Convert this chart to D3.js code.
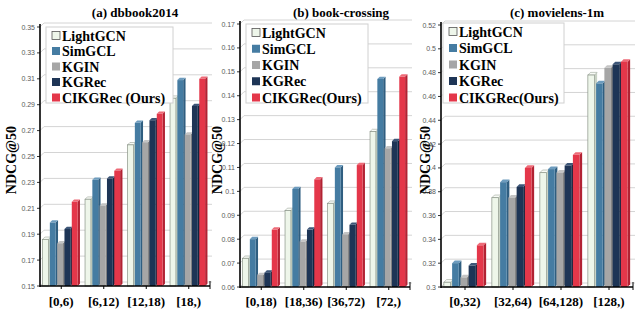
<!DOCTYPE html>
<html>
<head>
<meta charset="utf-8">
<script src="https://cdn.jsdelivr.net/npm/d3@7"></script>
<style>
  body { margin: 0; background: #fff; }
  svg { display: block; }
</style>
</head>
<body>
<svg id="chart" width="637" height="314"></svg>
<script>
// categories (user interaction ranges)
var catsA = ["[0,6)", "[6,12)", "[12,18)", "[18,)"];
var catsB = ["[0,18)", "[18,36)", "[36,72)", "[72,)"];
var catsC = ["[0,32)", "[32,64)", "[64,128)", "[128,)"];

var methods = ["LightGCN", "SimGCL", "KGIN", "KGRec", "CIKGRec(Ours)"];
var methodsA = ["LightGCN", "SimGCL", "KGIN", "KGRec", "CIKGRec (Ours)"];

// NDCG@50, one row per method (same order as methods)
var dbbookVals = [
  [0.186, 0.217, 0.259, 0.295],
  [0.199, 0.232, 0.276, 0.309],
  [0.183, 0.212, 0.261, 0.267],
  [0.194, 0.233, 0.278, 0.289],
  [0.215, 0.239, 0.283, 0.310]
];
var bookVals = [
  [0.072, 0.092, 0.095, 0.125],
  [0.080, 0.101, 0.110, 0.147],
  [0.065, 0.079, 0.082, 0.118],
  [0.066, 0.084, 0.086, 0.121],
  [0.084, 0.105, 0.111, 0.148]
];
var movieVals = [
  [0.304, 0.375, 0.396, 0.478],
  [0.320, 0.388, 0.399, 0.471],
  [0.308, 0.375, 0.396, 0.484],
  [0.318, 0.384, 0.402, 0.487],
  [0.335, 0.400, 0.411, 0.489]
];

var ticksA = [0.15, 0.17, 0.19, 0.21, 0.23, 0.25, 0.27, 0.29, 0.31, 0.33, 0.35];
var ticksB = [0.06, 0.07, 0.08, 0.09, 0.1, 0.11, 0.12, 0.13, 0.14, 0.15, 0.16, 0.17];
var ticksC = [0.3, 0.32, 0.34, 0.36, 0.38, 0.4, 0.42, 0.44, 0.46, 0.48, 0.5, 0.52];

var fills = ["#eef6ea", "#457ca2", "#a6a6a6", "#1e3556", "#e4374a"];
var sides = ["#c9d3c5", "#2f5e80", "#848484", "#112540", "#b22233"];
var tops  = ["#f8fbf6", "#6d9cbe", "#c4c4c4", "#3d5678", "#ee6a77"];
var strokes = ["#8a9488", "none", "none", "none", "none"];

var svg = d3.select("#chart");
var serif = "'Liberation Serif', 'Times New Roman', serif";
var sans = "'Liberation Sans', Arial, sans-serif";

var panels = [
  {title: "(a) dbbook2014", tx: 135, cats: catsA, vals: dbbookVals, ticks: ticksA, dom: [0.15, 0.35],
   x0: 40, x1: 210, yTop: 27, yBot: 286, ylab: 11, legend: methodsA, lx: 46, ly: 27, lw: 127, lh: 76},
  {title: "(b) book-crossing", tx: 341, cats: catsB, vals: bookVals, ticks: ticksB, dom: [0.06, 0.17],
   x0: 240, x1: 410, yTop: 24, yBot: 287, ylab: 217, legend: methods, lx: 246, ly: 24, lw: 122, lh: 79},
  {title: "(c) movielens-1m", tx: 557, cats: catsC, vals: movieVals, ticks: ticksC, dom: [0.3, 0.52],
   x0: 441, x1: 633, yTop: 25, yBot: 287, ylab: 425, legend: methods, lx: 443, ly: 23, lw: 121, lh: 80}
];

var dx = 4, dy = 4; // back wall offset

panels.forEach(function(p) {
  var g = svg.append("g");

  var x = d3.scaleBand().domain(p.cats).range([p.x0, p.x1]).paddingInner(0).paddingOuter(0);
  var y = d3.scaleLinear().domain(p.dom).range([p.yBot, p.yTop]);

  // gridlines on back wall
  p.ticks.forEach(function(t) {
    var yy = y(t);
    g.append("path")
      .attr("d", "M" + p.x0 + "," + yy + "L" + (p.x0 + dx) + "," + (yy - dy) + "L" + (p.x1 + dx - 2) + "," + (yy - dy))
      .attr("fill", "none")
      .attr("stroke", "#d4d4d4")
      .attr("stroke-width", 1);
  });

  // y tick labels
  g.selectAll(".tl").data(p.ticks).enter().append("text")
    .attr("x", p.x0 - 5)
    .attr("y", function(d) { return y(d) + 2.5; })
    .attr("text-anchor", "end")
    .attr("font-family", sans)
    .attr("font-size", "7px")
    .attr("fill", "#595959")
    .text(function(d) { return String(+d.toFixed(2)); });

  // bars
  var step = x.bandwidth() * 0.172;
  var fw = step * 0.8, depth = step * 0.32;
  var groupW = step * 4 + fw + depth;
  p.cats.forEach(function(c, ci) {
    var gx = x(c) + (x.bandwidth() - groupW) / 2;
    p.vals.forEach(function(series, mi) {
      var v = series[ci];
      var bx = gx + mi * step;
      var by = y(v);
      var bb = p.yBot;
      // side face
      g.append("path")
        .attr("d", "M" + (bx + fw) + "," + by + "L" + (bx + fw + depth) + "," + (by - depth) +
             "L" + (bx + fw + depth) + "," + (bb - depth) + "L" + (bx + fw) + "," + bb + "Z")
        .attr("fill", sides[mi]);
      // top face
      g.append("path")
        .attr("d", "M" + bx + "," + by + "L" + (bx + depth) + "," + (by - depth) +
             "L" + (bx + fw + depth) + "," + (by - depth) + "L" + (bx + fw) + "," + by + "Z")
        .attr("fill", tops[mi])
        .attr("stroke", mi === 0 ? "#8a9488" : "none")
        .attr("stroke-width", 0.5);
      // front face
      g.append("rect")
        .attr("x", bx)
        .attr("y", by)
        .attr("width", fw)
        .attr("height", bb - by)
        .attr("fill", fills[mi])
        .attr("stroke", strokes[mi])
        .attr("stroke-width", 0.7);
    });
  });

  // axes
  g.append("line")
    .attr("x1", p.x0).attr("x2", p.x0)
    .attr("y1", p.yTop - 3).attr("y2", p.yBot + 1)
    .attr("stroke", "#000").attr("stroke-width", 1.6);
  p.ticks.forEach(function(t) {
    g.append("line")
      .attr("x1", p.x0 - 3).attr("x2", p.x0)
      .attr("y1", y(t)).attr("y2", y(t))
      .attr("stroke", "#000").attr("stroke-width", 0.8);
  });
  g.append("line")
    .attr("x1", p.x0).attr("x2", p.x1)
    .attr("y1", p.yBot).attr("y2", p.yBot)
    .attr("stroke", "#000").attr("stroke-width", 1.4);
  g.append("line")
    .attr("x1", p.x1).attr("x2", p.x1)
    .attr("y1", p.yBot - 5).attr("y2", p.yBot + 3)
    .attr("stroke", "#000").attr("stroke-width", 1);
  p.cats.forEach(function(c) {
    var cx = x(c) + x.bandwidth() / 2;
    g.append("line")
      .attr("x1", cx).attr("x2", cx)
      .attr("y1", p.yBot).attr("y2", p.yBot + 3)
      .attr("stroke", "#000").attr("stroke-width", 1);
  });

  // category labels
  g.selectAll(".cl").data(p.cats).enter().append("text")
    .attr("x", function(d) { return x(d) + x.bandwidth() / 2; })
    .attr("y", 306)
    .attr("text-anchor", "middle")
    .attr("font-family", serif)
    .attr("font-weight", "bold")
    .attr("font-size", "13px")
    .text(function(d) { return d; });

  // title
  g.append("text")
    .attr("x", p.tx)
    .attr("y", 17)
    .attr("text-anchor", "middle")
    .attr("font-family", serif)
    .attr("font-weight", "bold")
    .attr("font-size", "13px")
    .text(p.title);

  // y label
  g.append("text")
    .attr("transform", "translate(" + (p.ylab + 5) + "," + 160 + ") rotate(-90)")
    .attr("text-anchor", "middle")
    .attr("font-family", serif)
    .attr("font-weight", "bold")
    .attr("font-size", "14px")
    .text("NDCG@50");

  // legend
  var lg = g.append("g");
  lg.append("rect")
    .attr("x", p.lx).attr("y", p.ly)
    .attr("width", p.lw).attr("height", p.lh)
    .attr("fill", "#fff")
    .attr("stroke", "#d0d0d0")
    .attr("stroke-width", 1);
  var rowH = (p.lh - 14) / 4;
  p.legend.forEach(function(name, i) {
    var cy = p.ly + 8.5 + i * rowH;
    lg.append("rect")
      .attr("x", p.lx + 6).attr("y", cy - 4)
      .attr("width", 8).attr("height", 8)
      .attr("fill", fills[i])
      .attr("stroke", i === 0 ? "#555" : "none")
      .attr("stroke-width", 0.8);
    lg.append("text")
      .attr("x", p.lx + 16)
      .attr("y", cy + 5)
      .attr("font-family", serif)
      .attr("font-weight", "bold")
      .attr("font-size", "14px")
      .text(name);
  });
});
</script>
</body>
</html>
